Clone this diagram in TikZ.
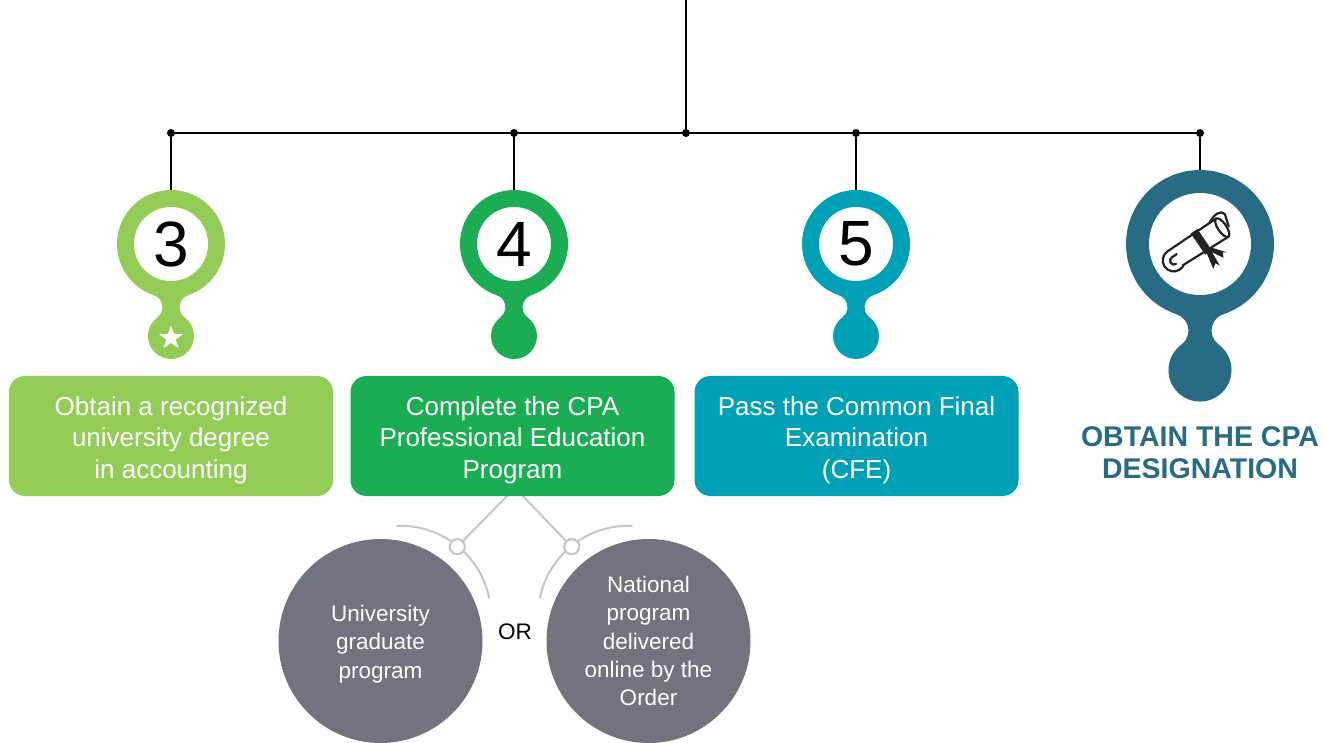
\documentclass[tikz,border=0pt]{standalone}
\usepackage{fontspec}
\setmainfont{Liberation Sans}
\usetikzlibrary{shapes.geometric}
\definecolor{cgA}{HTML}{93CD58}
\definecolor{cgB}{HTML}{1BAD53}
\definecolor{cgC}{HTML}{00A0B7}
\definecolor{cgD}{HTML}{286B85}
\definecolor{cgrey}{HTML}{71747E}
\definecolor{clink}{HTML}{C6C6C6}
\definecolor{cicon}{HTML}{222222}
\newcommand\pinshape[4]{%
  \begin{scope}[shift={(#1,#2)},scale=#3]
    \fill[#4] (0,0) circle[radius=54];
    \fill[#4] (0,-92) circle[radius=23];
    \fill[#4] (17.16,-51.2) arc[start angle=108.5,end angle=233.6,radius=12.7]
      -- (-13.66,-73.48) arc[start angle=-53.6,end angle=71.5,radius=12.7] -- cycle;
  \end{scope}}
\tikzset{
  dot/.style={circle,fill=black,inner sep=0pt,minimum size=8pt},
  wire/.style={line width=2.5pt,black},
  hole/.style={circle,fill=white,inner sep=0pt,font=\fontsize{64}{70}\selectfont},
  stepbox/.style={rounded corners=16pt,minimum width=324pt,minimum height=120pt,inner sep=0pt},
  steptext/.style={text=white,align=center,inner sep=0pt,font=\fontsize{26}{31.5}\selectfont},
  choice/.style={circle,fill=cgrey,minimum size=204pt,inner sep=0pt},
  choicetext/.style={text=white,align=center,inner sep=0pt,font=\fontsize{22.5}{28.3}\selectfont},
  link/.style={clink,line width=2pt},
  knob/.style={circle,draw=clink,line width=2pt,fill=white,minimum size=15pt,inner sep=0pt}
}
\begin{document}
\begin{tikzpicture}[x=1pt,y=1pt]
\useasboundingbox (0,-743) rectangle (1326,0);
% connectors at top
\coordinate (top) at (686,0);
\node[dot] (dc) at (686,-133) {};
\node[dot] (d3) at (171,-133) {};
\node[dot] (d4) at (514,-133) {};
\node[dot] (d5) at (856,-133) {};
\node[dot] (d6) at (1200,-133) {};
\coordinate (t3) at (171,-192);
\coordinate (t4) at (514,-192);
\coordinate (t5) at (856,-192);
\coordinate (t6) at (1200,-172);
\draw[wire] (top) -- (dc);
\draw[wire] (d3) -- (d6);
\draw[wire] (d3) -- (t3);
\draw[wire] (d4) -- (t4);
\draw[wire] (d5) -- (t5);
\draw[wire] (d6) -- (t6);
% pins
\pinshape{171}{-244}{1}{cgA}
\pinshape{514}{-244}{1}{cgB}
\pinshape{856}{-244}{1}{cgC}
\pinshape{1200}{-244}{1.37}{cgD}
\node[hole,minimum size=74pt] (n3) at (171,-244) {3};
\node[hole,minimum size=74pt] (n4) at (514,-244) {4};
\node[hole,minimum size=74pt] (n5) at (856,-244) {5};
\node[hole,minimum size=102pt] (n6) at (1200,-244) {};
\node[star,star points=5,star point ratio=2.5,fill=white,minimum size=25pt,inner sep=0pt] (s3) at (171,-338) {};
% diploma icon
\begin{scope}[shift={(1201,-242)},rotate=34,scale=1.22,draw=cicon,line width=2.2pt,line cap=round,line join=round]
  \draw (-27,9) -- (21,9);
  \draw (-23,-7.5) -- (21,-9);
  \draw (-27,9) arc[start angle=90,end angle=300,radius=9];
  \draw (-27,-3.5) arc[start angle=270,end angle=90,radius=3.2] -- (-22,2.9);
  \draw (21,0) ellipse[x radius=3.5,y radius=9];
  \draw (14,9) .. controls (22,13) and (28,13) .. (29,8) -- (26,-2);
  \fill[cicon] (-3,-10.5) rectangle (3.5,10.5);
  \fill[cicon] (-1,-9) -- (-4,-24) -- (0,-21) -- (2,-24.5) -- (3,-9) -- cycle;
  \fill[cicon] (1,-9) -- (8,-21) -- (10,-17) -- (13,-19) -- (4,-8) -- cycle;
\end{scope}
% grey connectors
\coordinate (split) at (515,-488);
\node[knob] (k1) at (457.3,-546.7) {};
\node[knob] (k2) at (571.7,-546.7) {};
\draw[link] (split) -- (k1);
\draw[link] (split) -- (k2);
\draw[link] (400.6,-616.2) ++(92.5:90.4) arc[start angle=92.5,end angle=11.4,radius=90.4];
\draw[link] (628.4,-616.2) ++(87.5:90.4) arc[start angle=87.5,end angle=168.6,radius=90.4];
\node[knob] at (k1) {};
\node[knob] at (k2) {};
% boxes
\node[stepbox,fill=cgA] (b3) at (171,-436) {};
\node[stepbox,fill=cgB] (b4) at (512.5,-436) {};
\node[stepbox,fill=cgC] (b5) at (856.5,-436) {};
\node[steptext] (l3) at ([yshift=-4pt]b3.center) {Obtain a recognized\\university degree\\in accounting};
\node[steptext] (l4) at ([yshift=-4pt]b4.center) {Complete the CPA\\Professional Education\\Program};
\node[steptext] (l5) at ([yshift=-4pt]b5.center) {Pass the Common Final\\Examination\\(CFE)};
\node[align=center,text=cgD,font=\bfseries\fontsize{28.5}{32}\selectfont] (b6) at (1200,-453) {OBTAIN THE CPA\\DESIGNATION};
% choices
\node[choice] (c1) at (380.5,-641) {};
\node[choice] (c2) at (648.5,-641) {};
\node[choicetext] (m1) at ([yshift=-3pt]c1.center) {University\\graduate\\program};
\node[choicetext] (m2) at (c2.center) {National\\program\\delivered\\online by the\\Order};
\node[font=\fontsize{22.5}{27}\selectfont] (or) at (515,-632) {OR};
\end{tikzpicture}
\end{document}
